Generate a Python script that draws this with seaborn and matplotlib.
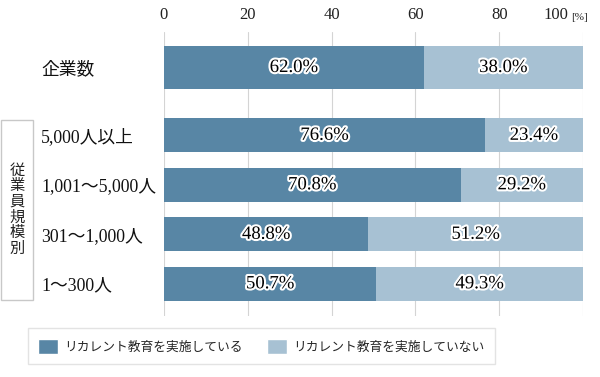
import matplotlib
matplotlib.use("Agg")
import matplotlib.pyplot as plt
import matplotlib.patheffects as pe
from matplotlib.patches import Patch, Rectangle
import pandas as pd
import seaborn as sns

categories = ["企業数", "5,000人以上", "1,001～5,000人", "301～1,000人", "1～300人"]
implemented = [62.0, 76.6, 70.8, 48.8, 50.7]
not_implemented = [38.0, 23.4, 29.2, 51.2, 49.3]
series_names = ["リカレント教育を実施している", "リカレント教育を実施していない"]
group_title = "従業員規模別"
xticks = [0, 20, 40, 60, 80, 100]

sns.set_theme(style="white")
plt.rcParams["font.family"] = ["Liberation Serif", "Noto Sans CJK JP"]

dark = "#5886a5"
light = "#a7c1d3"

df = pd.DataFrame({"category": categories, "yes": implemented, "no": not_implemented})
df["total"] = df["yes"] + df["no"]
# row positions: the overall row sits apart from the size breakdown
df["pos"] = [-1.37, 0, 1, 2, 3]

fig = plt.figure(figsize=(6, 3.77), dpi=100)
ax = fig.add_axes([164 / 600, 1 - 316 / 377, 419 / 600, 284 / 377])

for rows, w in [(df.iloc[:1], 0.85), (df.iloc[1:], 0.69)]:
    sns.barplot(data=rows, x="total", y="pos", orient="y", native_scale=True,
                color=light, saturation=1, width=w, linewidth=0,
                errorbar=None, ax=ax)
    sns.barplot(data=rows, x="yes", y="pos", orient="y", native_scale=True,
                color=dark, saturation=1, width=w, linewidth=0,
                errorbar=None, ax=ax)

stroke = [pe.withStroke(linewidth=3, foreground="white")]
for _, r in df.iterrows():
    ax.text(r["yes"] / 2, r["pos"], f"{r['yes']:.1f}%", ha="center", va="center",
            fontsize=13.5, color="black", path_effects=stroke)
    ax.text(r["yes"] + r["no"] / 2, r["pos"], f"{r['no']:.1f}%", ha="center",
            va="center", fontsize=13.5, color="black", path_effects=stroke)

ax.set_xlim(0, 100)
ax.set_ylim(3.65, -2.087)
ax.set_xlabel("")
ax.set_ylabel("")
for s in ax.spines.values():
    s.set_visible(False)

ax.xaxis.tick_top()
ax.set_xticks(xticks, [str(t) for t in xticks[:-1]] + [""])
ax.tick_params(axis="x", length=0, pad=6.5, labelsize=12, colors="#222222")
ax.annotate(str(xticks[-1]), xy=(xticks[-1], 1), xycoords=("data", "axes fraction"),
            xytext=(-27, 9), textcoords="offset pixels", ha="center", va="bottom",
            fontsize=12, color="#222222")
ax.annotate("[%]", xy=(xticks[-1], 1), xycoords=("data", "axes fraction"),
            xytext=(-3, 10), textcoords="offset pixels", ha="center", va="bottom",
            fontsize=8, color="#222222")

ax.set_yticks(df["pos"], df["category"])
ax.tick_params(axis="y", length=0, pad=88.5, labelsize=12.8, colors="#111111")
for lbl in ax.get_yticklabels():
    lbl.set_ha("left")

ax.grid(axis="x", color="#d4d4d4", lw=0.8)
ax.grid(axis="y", visible=False)
ax.set_axisbelow(True)

fig.add_artist(Rectangle((1 / 600, 1 - 300 / 377), 32 / 600, 180 / 377,
                         transform=fig.transFigure, fill=False,
                         edgecolor="#c8c8c8", lw=1))
fig.text(17 / 600, 1 - 210 / 377, "\n".join(group_title), ha="center", va="center",
         fontsize=11, linespacing=1.15, color="#222222")

handles = [Patch(facecolor=dark, label=series_names[0]),
           Patch(facecolor=light, label=series_names[1])]
leg = fig.legend(handles=handles, loc="center", bbox_to_anchor=(0.436, 0.081),
                 ncol=2, frameon=True, fancybox=False, edgecolor="#dcdcdc",
                 fontsize=9.2, handlelength=1.5, handleheight=1.5,
                 handletextpad=0.55, columnspacing=1.9, borderpad=0.8)
leg.get_frame().set_linewidth(1)

fig.savefig("out.png", dpi=100)
